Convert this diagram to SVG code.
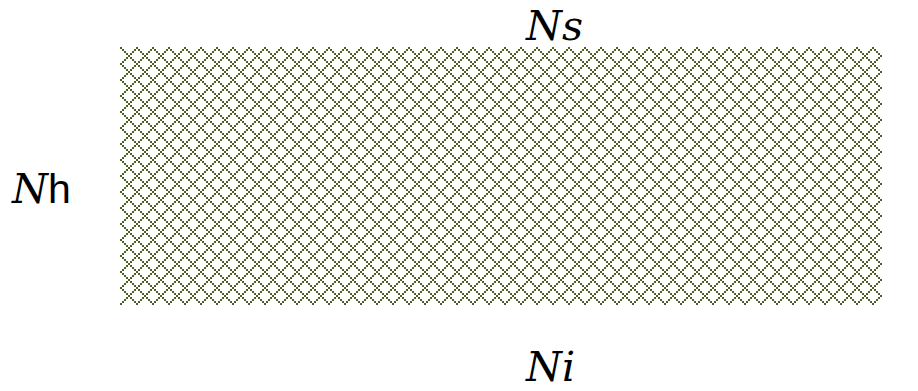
<svg xmlns="http://www.w3.org/2000/svg" width="918" height="391" viewBox="0 0 918 391">
  <defs>
    <!-- dotted diagonal lattice, 8x8 cell drawn at 2px per dot -->
    <pattern id="lattice" x="120" y="47" width="16" height="16" patternUnits="userSpaceOnUse">
      <path fill="#4F6228" shape-rendering="crispEdges"
        d="M0 0h2v2h-2z M2 2h2v2h-2z M14 2h2v2h-2z M4 4h2v2h-2z M12 4h2v2h-2z M6 6h2v2h-2z M10 6h2v2h-2z M8 8h2v2h-2z M10 10h2v2h-2z M6 10h2v2h-2z M12 12h2v2h-2z M4 12h2v2h-2z M14 14h2v2h-2z M2 14h2v2h-2z"/>
    </pattern>
    <style>
      .math { font-family: "DejaVu Serif", "Liberation Serif", serif; font-style: italic; font-size: 41px; fill: #000; }
      .up { font-family: "Liberation Sans", "DejaVu Sans", sans-serif; font-style: normal; font-size: 41px; fill: #000; }
    </style>
  </defs>
  <rect width="918" height="391" fill="#fff"/>

  <g id="block">
    <rect x="120" y="47" width="762" height="258" fill="url(#lattice)"/>
  </g>

  <g id="label-top">
    <text class="math" x="526" y="40">Ns</text>
  </g>
  <g id="label-left">
    <text x="12" y="203"><tspan class="math">N</tspan><tspan class="up">h</tspan></text>
  </g>
  <g id="label-bottom">
    <text class="math" x="526" y="381">Ni</text>
  </g>
  <g id="connectors"/>
</svg>
